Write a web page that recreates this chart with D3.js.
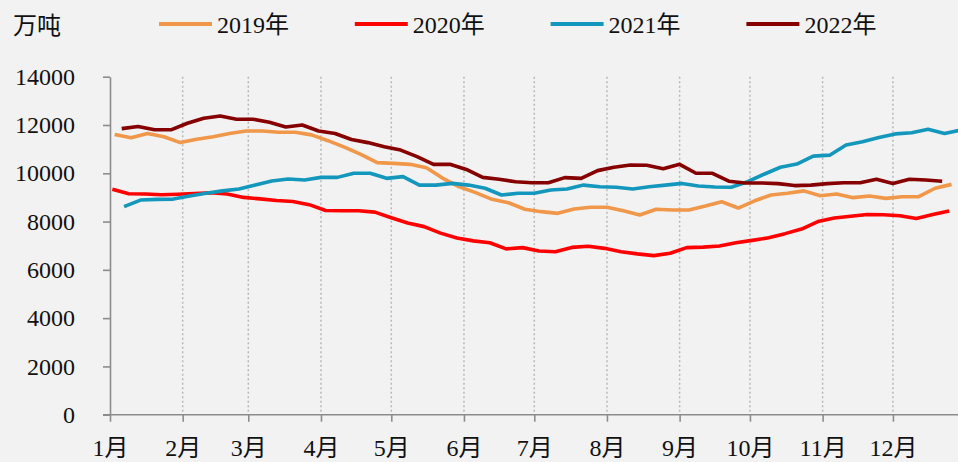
<!DOCTYPE html>
<html>
<head>
<meta charset="utf-8">
<title>weekly stock chart</title>
<script src="https://d3js.org/d3.v7.min.js"></script>
<style>
  body { margin: 0; background: #f2f2f2; }
  svg text { font-family: "Liberation Serif", "Noto Sans CJK SC", serif; }
</style>
</head>
<body>
<svg id="chart" width="958" height="462"></svg>
<script>
// month ticks (day of year where each month starts)
const months = ["1月", "2月", "3月", "4月", "5月", "6月", "7月", "8月", "9月", "10月", "11月", "12月"];
const monthStart = [0, 31, 59, 90, 120, 151, 181, 212, 243, 273, 304, 334];
const yTicks = [0, 2000, 4000, 6000, 8000, 10000, 12000, 14000];
const unitLabel = "万吨";

const seriesNames = ["2019年", "2020年", "2021年", "2022年"];
const seriesColors = ["#f0974a", "#ff0000", "#1497bc", "#860000"];
// day of year of the first weekly reading of each year
const firstDay = [2, 1, 6, 5];

const v2019 = [11610, 11470, 11650, 11510, 11270, 11410, 11510, 11650, 11750, 11750, 11700, 11700, 11590,
  11350, 11080, 10780, 10440, 10410, 10370, 10230, 9790, 9440, 9200, 8920, 8780, 8510, 8410, 8340, 8520,
  8590, 8590, 8450, 8270, 8510, 8480, 8480, 8640, 8820, 8560, 8860, 9100, 9170, 9270, 9070, 9140, 8990,
  9060, 8960, 9030, 9030, 9380, 9540];
const v2020 = [9340, 9150, 9140, 9110, 9130, 9160, 9190, 9140, 9000, 8940, 8870, 8830, 8700, 8460, 8450,
  8450, 8390, 8160, 7940, 7790, 7520, 7320, 7200, 7120, 6870, 6920, 6780, 6750, 6930, 6980, 6890, 6750,
  6660, 6590, 6690, 6920, 6940, 6990, 7120, 7220, 7330, 7500, 7690, 8000, 8150, 8220, 8290, 8280, 8240,
  8130, 8290, 8440];
const v2021 = [8620, 8890, 8920, 8930, 9060, 9170, 9270, 9350, 9510, 9680, 9760, 9720, 9830, 9830, 10000,
  10000, 9790, 9860, 9510, 9510, 9580, 9510, 9380, 9100, 9170, 9170, 9310, 9350, 9510, 9440, 9420, 9350,
  9440, 9510, 9580, 9470, 9430, 9420, 9650, 9960, 10250, 10380, 10710, 10750, 11170, 11310, 11480, 11630,
  11680, 11820, 11650, 11790];
const v2022 = [11850, 11940, 11800, 11800, 12070, 12280, 12370, 12240, 12240, 12110, 11920, 12000, 11750,
  11650, 11400, 11270, 11100, 10960, 10690, 10370, 10370, 10160, 9830, 9750, 9650, 9610, 9610, 9820, 9790,
  10110, 10250, 10340, 10330, 10190, 10370, 10000, 10000, 9670, 9600, 9600, 9570, 9490, 9510, 9570, 9610,
  9610, 9750, 9580, 9750, 9720, 9670];

const seriesValues = [v2019, v2020, v2021, v2022];

const svg = d3.select("#chart");
svg.append("rect").attr("width", 958).attr("height", 462).attr("fill", "#f2f2f2");

const x = d3.scaleLinear().domain([0, 365]).range([110, 965.6]);
const y = d3.scaleLinear().domain([0, 14000]).range([414.7, 76.7]);

// dotted month gridlines
svg.append("g")
  .selectAll("line")
  .data(monthStart.slice(1))
  .join("line")
  .attr("x1", d => x(d)).attr("x2", d => x(d))
  .attr("y1", y(14000)).attr("y2", y(0))
  .attr("stroke", "#b8b8b8")
  .attr("stroke-width", 1.5)
  .attr("stroke-dasharray", "2,2.5");

// y axis
const yAxis = svg.append("g")
  .attr("transform", "translate(110,0)")
  .call(d3.axisLeft(y).tickValues(yTicks).tickFormat(d3.format("d")).tickSize(7).tickSizeOuter(0))
  .attr("font-family", null)
  .attr("font-size", 24);
yAxis.select(".domain").attr("stroke", "#8c8c8c").attr("stroke-width", 1.6);
yAxis.selectAll(".tick line").attr("stroke", "#8c8c8c").attr("stroke-width", 1.6);
yAxis.selectAll("text")
  .attr("x", -35)
  .attr("fill", "#111");

// x axis
const xAxis = svg.append("g")
  .attr("transform", "translate(0," + y(0) + ")")
  .call(d3.axisBottom(x).tickValues(monthStart).tickFormat((d, i) => months[i]).tickSize(7).tickSizeOuter(0))
  .attr("font-family", null)
  .attr("font-size", 24);
xAxis.select(".domain").remove();
xAxis.append("line")
  .attr("x1", 103).attr("x2", 958)
  .attr("stroke", "#8c8c8c").attr("stroke-width", 1.6);
xAxis.selectAll(".tick line").attr("stroke", "#8c8c8c").attr("stroke-width", 1.6);
xAxis.selectAll("text")
  .attr("y", 41).attr("dy", 0)
  .attr("fill", "#111");

// series lines
const line = d3.line()
  .x(d => x(d.day))
  .y(d => y(d.value));

seriesValues.forEach((vals, s) => {
  const pts = vals.map((v, i) => ({ day: firstDay[s] + i * 7, value: v }));
  svg.append("path")
    .datum(pts)
    .attr("fill", "none")
    .attr("stroke", seriesColors[s])
    .attr("stroke-width", 3.6)
    .attr("stroke-linejoin", "round")
    .attr("d", line);
});

// unit label
svg.append("text")
  .attr("x", 13).attr("y", 34)
  .attr("font-size", 24)
  .attr("fill", "#111")
  .text(unitLabel);

// legend
const legend = svg.append("g")
  .selectAll("g")
  .data(seriesNames)
  .join("g")
  .attr("transform", (d, i) => "translate(" + (159 + i * 195.8) + ",24)");
legend.append("line")
  .attr("x1", 0).attr("x2", 53)
  .attr("stroke", (d, i) => seriesColors[i])
  .attr("stroke-width", 4);
legend.append("text")
  .attr("x", 58).attr("y", 9)
  .attr("font-size", 24)
  .attr("fill", "#111")
  .text(d => d);
</script>
</body>
</html>
